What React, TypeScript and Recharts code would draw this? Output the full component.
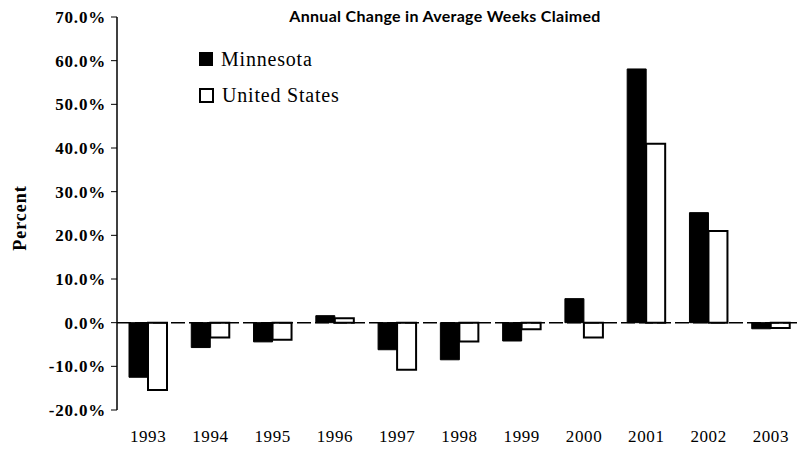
import { BarChart, Bar, XAxis, YAxis, ReferenceLine } from "recharts";

const years = ["1993", "1994", "1995", "1996", "1997", "1998", "1999", "2000", "2001", "2002", "2003"];
const minnesota = [-12.5, -5.7, -4.4, 1.6, -6.2, -8.5, -4.2, 5.5, 58.1, 25.2, -1.4];
const unitedStates = [-15.4, -3.4, -3.9, 1.0, -10.8, -4.3, -1.5, -3.4, 41.0, 21.0, -1.2];
const yTicks = [-20, -10, 0, 10, 20, 30, 40, 50, 60, 70];

const data = years.map((year, i) => ({
  year,
  mn: minnesota[i],
  us: unitedStates[i],
}));

const serif = "'Liberation Serif', 'DejaVu Serif', serif";

const LegendBox = () => (
  <div
    style={{
      position: "absolute",
      left: 199,
      top: 41,
      fontFamily: serif,
      fontSize: 20,
      letterSpacing: 0.8,
      color: "#000",
      lineHeight: "36px",
    }}
  >
    <div style={{ display: "flex", alignItems: "center" }}>
      <span style={{ display: "inline-block", width: 14, height: 14, background: "#000", marginRight: 8 }} />
      Minnesota
    </div>
    <div style={{ display: "flex", alignItems: "center" }}>
      <span style={{ display: "inline-block", width: 11, height: 11, border: "2px solid #000", background: "#fff", marginRight: 8 }} />
      United States
    </div>
  </div>
);

export default function App() {
  return (
    <div style={{ position: "fixed", left: 0, top: 0, width: 798, height: 450, overflow: "hidden", background: "#fff" }}>
      <BarChart
        width={802}
        height={450}
        data={data}
        margin={{ top: 17, right: 0, bottom: 10, left: 0 }}
        barSize={19}
        barGap={0}
      >
        <text
          x={445}
          y={22}
          textAnchor="middle"
          style={{ fontFamily: "Lato, 'Open Sans', sans-serif", fontWeight: 700, fontSize: 16, letterSpacing: 0.3, fill: "#000" }}
        >
          Annual Change in Average Weeks Claimed
        </text>
        <text
          x={26}
          y={218}
          textAnchor="middle"
          transform="rotate(-90 26 218)"
          style={{ fontFamily: serif, fontWeight: 700, fontSize: 18, letterSpacing: 1, fill: "#000" }}
        >
          Percent
        </text>
        <XAxis
          dataKey="year"
          axisLine={false}
          tickLine={false}
          height={30}
          tick={{ fill: "#000", fontFamily: serif, fontSize: 17, letterSpacing: 0.6 }}
          dy={12}
          interval={0}
        />
        <YAxis
          width={117}
          domain={[-20, 70]}
          ticks={yTicks}
          tickFormatter={(v: number) => `${v.toFixed(1)}%`}
          axisLine={{ stroke: "#000", strokeWidth: 1.5 }}
          tickLine={{ stroke: "#000" }}
          tickSize={6}
          tick={{ fill: "#000", fontFamily: serif, fontSize: 17, fontWeight: 700, letterSpacing: 0.8, dx: -3 }}
          interval={0}
        />
        <ReferenceLine y={0} stroke="#000" strokeWidth={1.5} strokeDasharray="14 4" />
        <Bar dataKey="mn" name="Minnesota" fill="#000" stroke="#000" strokeWidth={1} isAnimationActive={false} />
        <Bar dataKey="us" name="United States" fill="#fff" stroke="#000" strokeWidth={2} isAnimationActive={false} />
      </BarChart>
      <LegendBox />
    </div>
  );
}
